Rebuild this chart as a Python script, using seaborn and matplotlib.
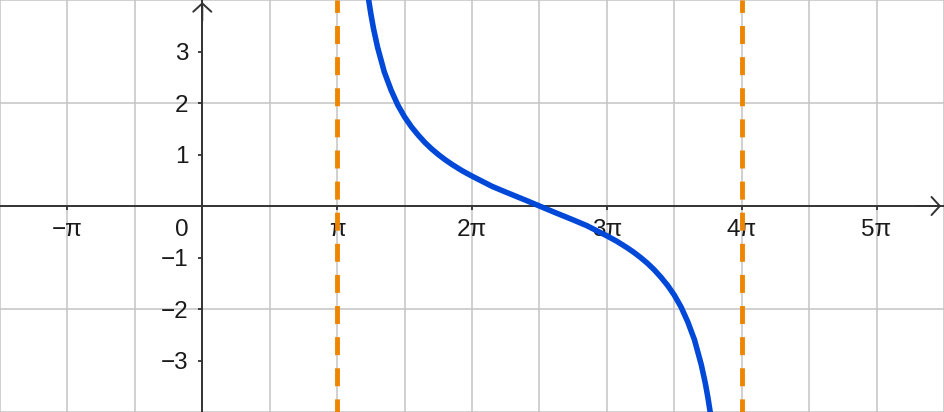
import numpy as np
import pandas as pd
import matplotlib
matplotlib.use("Agg")
import matplotlib.pyplot as plt
import seaborn as sns


# Curve points (x in multiples of pi)
x_pi = [1.22, 1.235, 1.25, 1.27, 1.3, 1.35, 1.4, 1.45, 1.5, 1.55, 1.6, 1.65,
        1.7, 1.75, 1.8, 1.85, 1.925, 2.0, 2.15, 2.25, 2.4, 2.5, 2.6, 2.75,
        2.85, 3.0, 3.075, 3.15, 3.2, 3.25, 3.3, 3.35, 3.4, 3.45, 3.5, 3.55,
        3.6, 3.65, 3.7, 3.73, 3.75, 3.765, 3.78]
y_vals = [4.26, 3.98, 3.73, 3.44, 3.08, 2.60, 2.25, 1.96, 1.73, 1.54, 1.38, 1.235,
          1.11, 1.00, 0.90, 0.81, 0.687, 0.58, 0.38, 0.27, 0.11, 0.0, -0.11, -0.27,
          -0.38, -0.58, -0.687, -0.81, -0.90, -1.00, -1.11, -1.235, -1.38, -1.54, -1.73, -1.96,
          -2.25, -2.60, -3.08, -3.44, -3.73, -3.98, -4.26]

# Vertical asymptotes (multiples of pi)
asymptotes_pi = [1, 4]

# Axis ticks and labels
xtick_pi = [-1, 1, 2, 3, 4, 5]
xtick_labels = ["\u2212\u03c0", "\u03c0", "2\u03c0", "3\u03c0", "4\u03c0", "5\u03c0"]
ytick_vals = [-3, -2, -1, 1, 2, 3]
ytick_labels = ["\u22123", "\u22122", "\u22121", "1", "2", "3"]

df = pd.DataFrame({"x": np.array(x_pi) * np.pi, "y": y_vals})


sns.set_theme(style="white")
plt.rcParams["font.family"] = ["Liberation Sans", "DejaVu Sans"]

fig = plt.figure(figsize=(9.44, 4.12), dpi=100)
ax = fig.add_axes([0, 0, 1, 1])

ax.set_xlim(-1.5 * np.pi, 5.5 * np.pi)
ax.set_ylim(-4, 4)

# Grid: every pi/2 vertically, every 2 units horizontally
grid_c = "#c4c4c4"
for k in range(-3, 12):
    ax.axvline(k * np.pi / 2, color=grid_c, lw=1.1, zorder=0.5)
for g in [-4, -2, 2, 4]:
    ax.axhline(g, color=grid_c, lw=1.1, zorder=0.5)

# Axes through the origin
axis_c = "#333333"
for side in ["top", "right"]:
    ax.spines[side].set_visible(False)
for side in ["left", "bottom"]:
    ax.spines[side].set_position("zero")
    ax.spines[side].set_color(axis_c)
    ax.spines[side].set_linewidth(1.4)
    ax.spines[side].set_zorder(2.6)

ax.set_xticks(np.array(xtick_pi) * np.pi)
ax.set_xticklabels(xtick_labels)
ax.set_yticks(ytick_vals)
ax.set_yticklabels(ytick_labels)
ax.tick_params(axis="both", direction="out", length=3, width=1.2, color="#222222",
               labelsize=17.5, labelcolor="#1a1a1a")
ax.tick_params(axis="x", pad=6)
ax.tick_params(axis="y", pad=7)
ax.xaxis.set_ticks_position("bottom")
ax.yaxis.set_ticks_position("left")

ax.annotate("0", xy=(0, 0), xytext=(-10, -9.5), textcoords="offset points",
            ha="right", va="top", fontsize=17.5, color="#1a1a1a")

# Arrow heads
arrow_kw = dict(arrowstyle="->,head_length=0.6,head_width=0.65", lw=1.4,
                color=axis_c, shrinkA=0, shrinkB=0, mutation_scale=10)
ax.annotate("", xy=(0.997, 0), xytext=(0.97, 0),
            xycoords=("axes fraction", "data"), arrowprops=arrow_kw, zorder=3)
ax.annotate("", xy=(0, 0.995), xytext=(0, 0.95),
            xycoords=("data", "axes fraction"), arrowprops=arrow_kw, zorder=3)

# Asymptotes
for a in asymptotes_pi:
    ax.axvline(a * np.pi, color="#ee8500", lw=3.5, ls=(1, (3.7, 2.7)), zorder=3.5)

# Curve
sns.lineplot(data=df, x="x", y="y", sort=False, estimator=None, ax=ax,
             color="#0048d8", lw=4, zorder=4)

ax.set_xlabel("")
ax.set_ylabel("")

fig.savefig("out.png", dpi=100)
